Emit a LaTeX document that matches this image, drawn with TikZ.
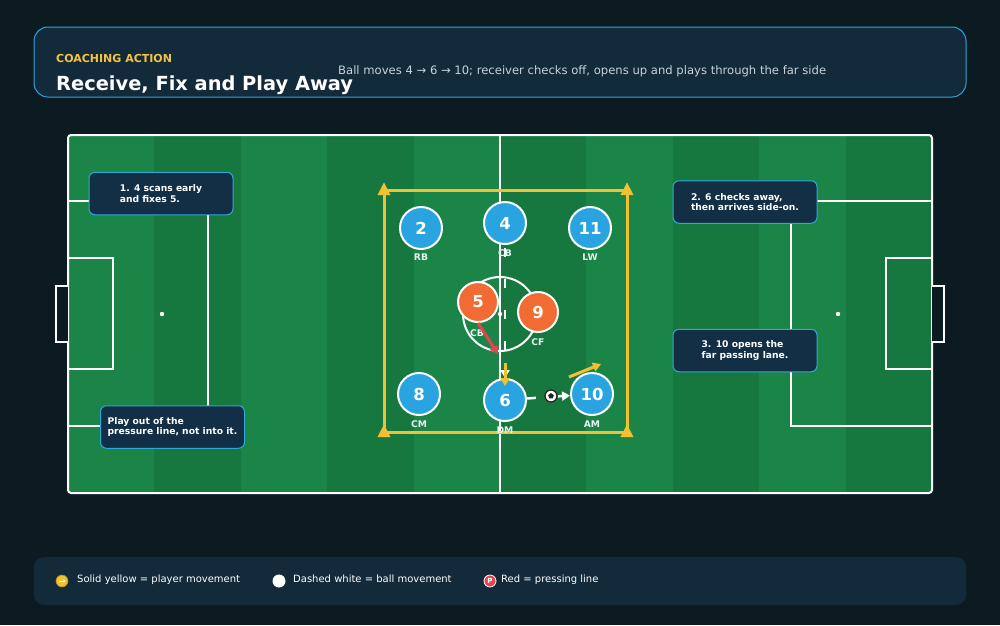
\documentclass[tikz,border=0pt]{standalone}
\usepackage{fontspec}
\setmainfont{DejaVu Sans}
\usetikzlibrary{arrows.meta,calc}
\definecolor{bg}{HTML}{0C1A22}
\definecolor{hdr}{HTML}{132A3B}
\definecolor{hdrline}{HTML}{2FA6DE}
\definecolor{kick}{HTML}{F4C23E}
\definecolor{subt}{HTML}{C8D2D9}
\definecolor{pitchlight}{HTML}{1B8547}
\definecolor{pitchdark}{HTML}{16783F}
\definecolor{cone}{HTML}{F2C132}
\definecolor{pblue}{HTML}{29A4E0}
\definecolor{porange}{HTML}{F26B33}
\definecolor{pred}{HTML}{E8434F}
\definecolor{notefill}{HTML}{132F45}
\definecolor{legfill}{HTML}{132A3A}
\definecolor{plabtext}{HTML}{E9F1F1}
\begin{document}
\begin{tikzpicture}[x=1pt,y=-1pt,
  pline/.style={draw=white,line width=2pt},
  player/.style={circle,draw=white,line width=2pt,minimum size=42pt,inner sep=0pt,text=white,font=\bfseries\fontsize{16.5}{17}\selectfont},
  blueplayer/.style={player,fill=pblue},
  oppplayer/.style={player,fill=porange,minimum size=40pt},
  plabel/.style={text=plabtext,font=\bfseries\fontsize{9.2}{10}\selectfont,inner sep=0pt},
  note/.style={draw=hdrline,line width=1pt,fill=notefill,rounded corners=6pt,minimum width=144pt,minimum height=42.5pt,inner sep=0pt,text=white,align=left,font=\bfseries\fontsize{9.2}{10.6}\selectfont},
  conebox/.style={draw=cone,line width=3pt},
  conemark/.style={fill=cone},
  balldash/.style={draw=white,line width=2.5pt,dash pattern=on 9pt off 22pt,-{Triangle[length=8pt,width=9pt]}},
  playermove/.style={draw=cone,line width=3pt,-{Triangle[length=8pt,width=9pt]}},
  pressmove/.style={draw=pred,line width=3pt,-{Triangle[length=8pt,width=9pt]}},
  legtext/.style={text=white,anchor=base west,inner sep=0pt,font=\fontsize{10}{12}\selectfont}
]
\useasboundingbox (0,0) rectangle (1000,625);
\fill[bg] (0,0) rectangle (1000,625);

% header
\draw[fill=hdr,draw=hdrline,line width=1pt,rounded corners=14pt] (34,27) rectangle (966,97);
\node[anchor=base west,inner sep=0pt,text=kick,font=\bfseries\fontsize{11}{13}\selectfont] (kicker) at (56,62) {COACHING ACTION};
\node[anchor=base west,inner sep=0pt,text=white,font=\bfseries\fontsize{19.4}{22}\selectfont] (title) at (56,90) {Receive, Fix and Play Away};
\node[anchor=base west,inner sep=0pt,text=subt,font=\fontsize{11.6}{14}\selectfont] (subtitle) at (338,74) {Ball moves 4 → 6 → 10; receiver checks off, opens up and plays through the far side};

% pitch
\fill[pitchlight,rounded corners=3pt] (68,135) rectangle (932,493);
\foreach \i in {1,3,5,7,9} {
  \fill[pitchdark] ({68+\i*86.4},136) rectangle ({68+(\i+1)*86.4},492);
}
\draw[pline,rounded corners=3pt] (68,135) rectangle (932,493);
\draw[pline] (500,135) -- (500,493);
\draw[pline] (500,314) circle (37);
\fill[white] (500,314) circle (2.2);
% left end
\draw[pline] (68,201) -- (208,201) -- (208,426) -- (68,426);
\draw[pline] (68,258) -- (113,258) -- (113,369) -- (68,369);
\draw[draw=white,line width=1.5pt,fill=bg] (68,286) -- (56,286) -- (56,342) -- (68,342);
\fill[white] (162,314) circle (2.2);
% right end
\draw[pline] (932,201) -- (791,201) -- (791,426) -- (932,426);
\draw[pline] (932,258) -- (886,258) -- (886,369) -- (932,369);
\draw[draw=white,line width=1.5pt,fill=bg] (932,286) -- (944,286) -- (944,342) -- (932,342);
\fill[white] (838,314) circle (2.2);

% training box with cones
\draw[conebox] (384,190) rectangle (627,432);
\foreach \cx/\cy in {384/190,627/190,384/432,627/432} {
  \fill[conemark] (\cx,\cy-7.5) -- (\cx+6.5,\cy+5) -- (\cx-6.5,\cy+5) -- cycle;
}

% players
\node[blueplayer] (p2) at (421,228) {2};
\node[blueplayer] (p4) at (505,223) {4};
\node[blueplayer] (p11) at (590,228) {11};
\node[blueplayer] (p8) at (419,394) {8};
\node[blueplayer] (p6) at (505,400) {6};
\node[blueplayer] (p10) at (592,394) {10};

\node[plabel] (l2) at ($(p2)+(0,29.5)$) {RB};
\node[plabel] (l4) at ($(p4)+(0,30)$) {CB};
\node[plabel] (l11) at ($(p11)+(0,29.5)$) {LW};
\node[plabel] (l8) at ($(p8)+(0,30)$) {CM};
\node[plabel] (l6) at ($(p6)+(0,30)$) {DM};
\node[plabel] (l10) at ($(p10)+(0,30.5)$) {AM};

% ball movement
\draw[balldash,dash phase=28pt] (p4) -- (p6);
\draw[balldash] (p6) -- (p10);
\node[circle,fill=white,draw=black!85,line width=1.3pt,minimum size=12pt,inner sep=0pt] (ball) at (551,396) {};
\fill[black!85] ($(ball)+(90:-3)$) -- ($(ball)+(162:-3)$) -- ($(ball)+(234:-3)$) -- ($(ball)+(306:-3)$) -- ($(ball)+(18:-3)$) -- cycle;

% opponents
\node[plabel] (l5) at (477,333) {CB};
\node[plabel] (l9) at (538,342) {CF};
\node[oppplayer] (p5) at (478,302) {5};
\node[oppplayer] (p9) at (538,312) {9};

% movements
\coordinate (pressend) at (498,354);
\draw[pressmove] (p5.south) -- (pressend);
\coordinate (chkstart) at (505,363);
\coordinate (chkend) at (505,386);
\draw[playermove] (chkstart) -- (chkend);
\coordinate (openstart) at (569,377);
\coordinate (openend) at (601,364);
\draw[playermove] (openstart) -- (openend);

% notes
\node[note] (n1) at (161,193.5) {1. 4 scans early\\and fixes 5.};
\node[note] (n2) at (745,202) {2. 6 checks away,\\then arrives side-on.};
\node[note] (n3) at (745,350.5) {3. 10 opens the\\far passing lane.};
\node[note] (n4) at (172.5,427) {Play out of the\\pressure line, not into it.};

% legend
\fill[legfill,rounded corners=10pt] (34,557) rectangle (966,605);
\node[circle,fill=cone,draw=cone!70!black,line width=0.6pt,minimum size=12pt,inner sep=0pt] (ic1) at (62,581) {};
\draw[white!90!cone,line width=1pt,-{Triangle[length=2pt,width=3pt]}] ($(ic1)+(-3,0)$) -- ($(ic1)+(3.5,0)$);
\node[legtext] (t1) at (77,582) {Solid yellow = player movement};
\node[circle,fill=white,minimum size=13pt,inner sep=0pt] (ic2) at (279,581) {};
\node[legtext] (t2) at (293,582) {Dashed white = ball movement};
\node[circle,fill=pred,draw=white,line width=0.8pt,minimum size=12pt,inner sep=0pt,text=white,font=\bfseries\fontsize{7}{7}\selectfont] (ic3) at (490,581) {P};
\node[legtext] (t3) at (501,582) {Red = pressing line};
\end{tikzpicture}
\end{document}
